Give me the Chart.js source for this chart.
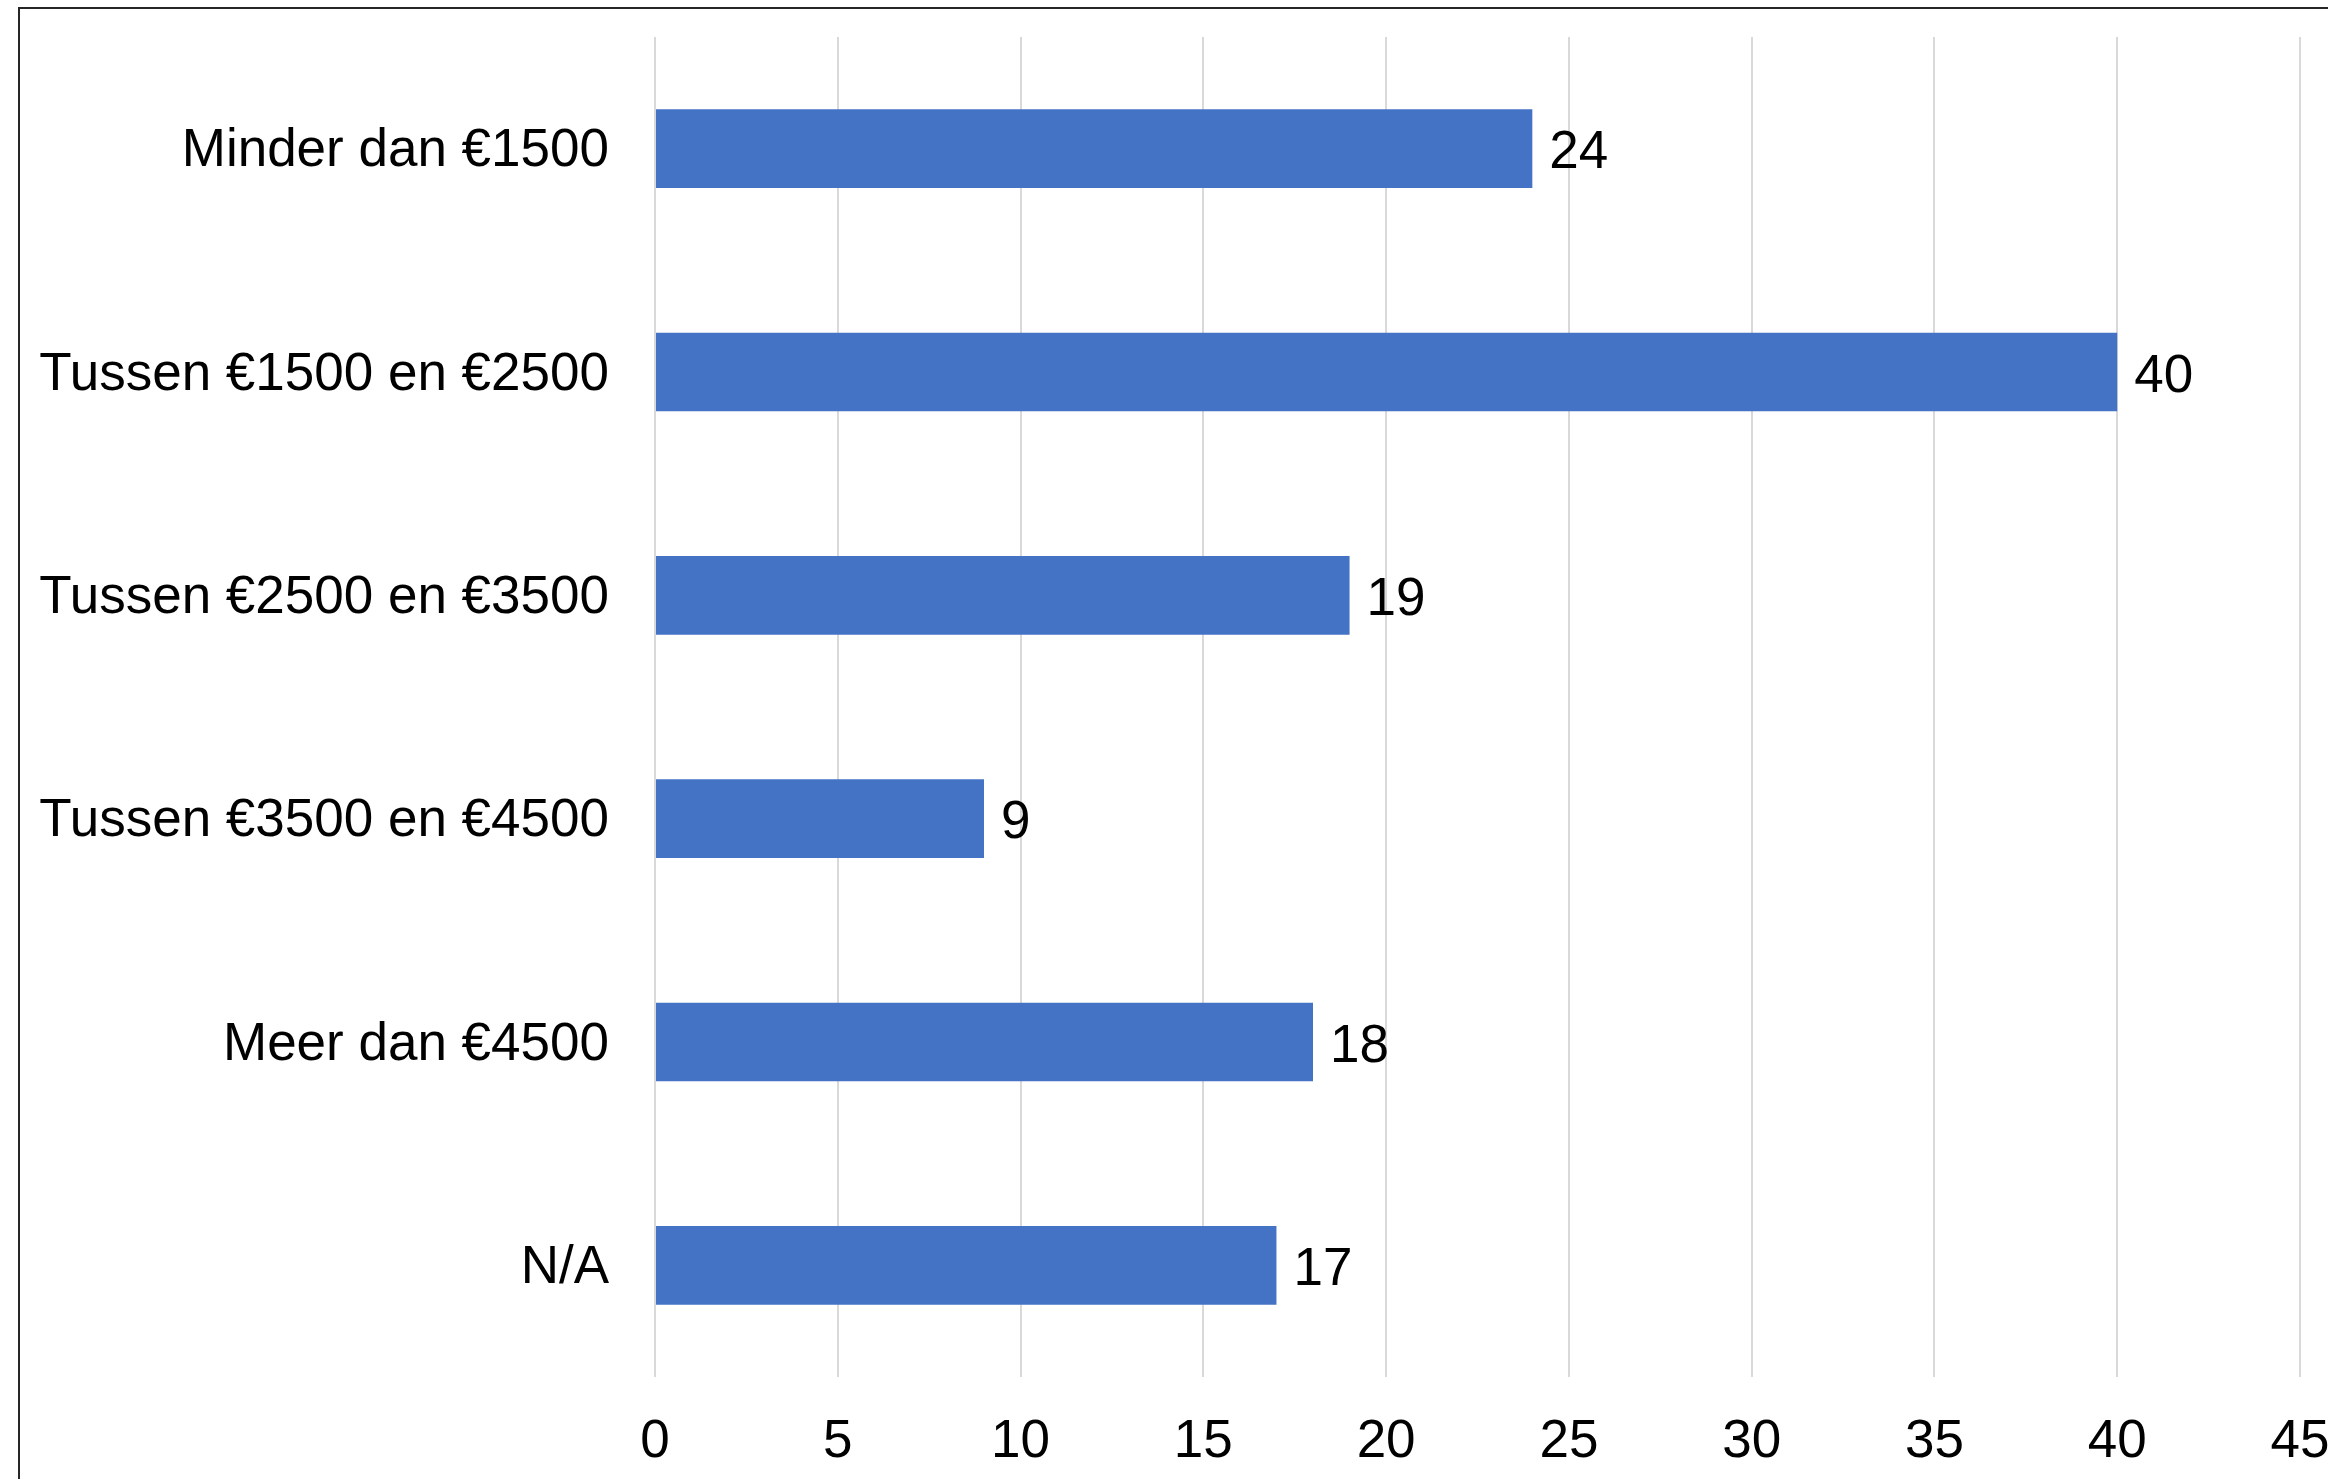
<!DOCTYPE html>
<html>
<head>
<meta charset="utf-8">
<script src="https://cdn.jsdelivr.net/npm/chart.js@4/dist/chart.umd.min.js"></script>
<style>
	html, body { margin: 0; padding: 0; background: #fff; overflow: hidden; }
	#frame {
		position: absolute; left: 18px; top: 7px;
		width: 2500px; height: 1600px;
		border-left: 2px solid #262626; border-top: 2px solid #262626;
	}
	#chart { position: absolute; left: 0; top: 0; }
</style>
</head>
<body>
<div id="frame"></div>
<canvas id="chart" width="2400" height="1479"></canvas>
<script>
'use strict'

const categories = ['Minder dan €1500', 'Tussen €1500 en €2500', 'Tussen €2500 en €3500', 'Tussen €3500 en €4500', 'Meer dan €4500', 'N/A']
const values = [24, 40, 19, 9, 18, 17]
const xTicks = [0, 5, 10, 15, 20, 25, 30, 35, 40, 45]

const font = { family: '"Liberation Sans", Arial, sans-serif', size: 53 }

// value labels at the end of each bar
const barValues = {
	id: 'barValues',
	afterDatasetsDraw(chart) {
		const ctx = chart.ctx
		ctx.save()
		ctx.font = font.size + 'px ' + font.family
		ctx.fillStyle = '#000'
		ctx.textAlign = 'left'
		ctx.textBaseline = 'middle'
		chart.getDatasetMeta(0).data.forEach((bar, i) => {
			ctx.fillText(values[i], bar.x + 17, bar.y + 5)
		})
		ctx.restore()
	}
}

new Chart(document.getElementById('chart'), {
	type: 'bar',
	data: {
		labels: categories,
		datasets: [{
			data: values,
			backgroundColor: '#4472C4',
			borderWidth: 0,
			barPercentage: 0.352,
			categoryPercentage: 1,
		}],
	},
	options: {
		indexAxis: 'y',
		responsive: false,
		animation: false,
		layout: { padding: { top: 37, right: 100, left: 0, bottom: 0 } },
		plugins: {
			legend: { display: false },
			tooltip: { enabled: false },
		},
		scales: {
			x: {
				min: 0,
				max: 45,
				afterBuildTicks: (scale) => { scale.ticks = xTicks.map(v => ({ value: v })) },
				afterFit: (scale) => {
					scale.height = 102
					scale.paddingLeft = 0
					scale.paddingRight = 0
				},
				grid: { color: '#d9d9d9', lineWidth: 2, drawTicks: false },
				border: { display: false },
				ticks: { color: '#000', font: font, padding: 34, maxRotation: 0, autoSkip: false },
			},
			y: {
				afterFit: (scale) => {
					scale.width = 655
					scale.paddingTop = 0
					scale.paddingBottom = 0
				},
				grid: { display: false, drawTicks: false },
				border: { display: false },
				ticks: { color: '#000', font: font, padding: 46, labelOffset: 3, autoSkip: false },
			},
		},
	},
	plugins: [barValues],
})
</script>
</body>
</html>
